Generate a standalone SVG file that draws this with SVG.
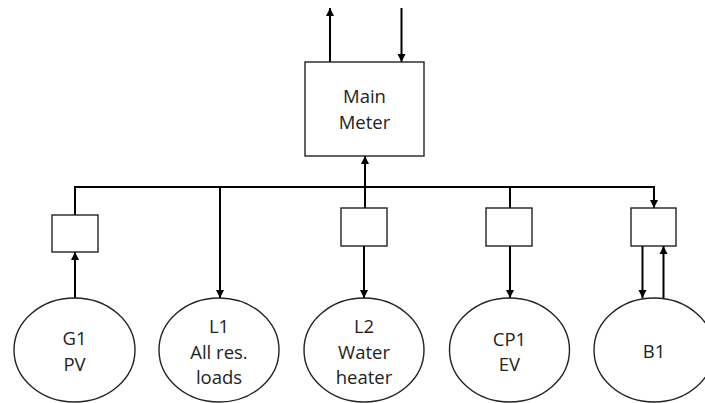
<svg xmlns="http://www.w3.org/2000/svg" width="705" height="403" viewBox="0 0 705 403">
<style>
.box{fill:#fff;stroke:#222;stroke-width:1.4}
.ell{fill:#fff;stroke:#222;stroke-width:1.4}
.ln{fill:none;stroke:#000;stroke-width:2}
.t{font-family:"Open Sans","Liberation Sans",sans-serif;font-size:18.5px;fill:#222;text-anchor:middle}
</style>
<defs>
<marker id="ah" viewBox="0 0 10 10" refX="10" refY="5" markerWidth="4" markerHeight="4.5" orient="auto" markerUnits="strokeWidth">
<path d="M0,0 L10,5 L0,10 z" fill="#000"/>
</marker>
</defs>
<rect width="705" height="403" fill="#fff"/>
<g id="connectors">
<line class="ln" x1="330" y1="62" x2="330" y2="8" marker-end="url(#ah)"/>
<line class="ln" x1="401.5" y1="8" x2="401.5" y2="62" marker-end="url(#ah)"/>
<line class="ln" x1="365" y1="187" x2="365" y2="156" marker-end="url(#ah)"/>
<polyline class="ln" points="75,215 75,187 654,187 654,208" marker-end="url(#ah)"/>
<line class="ln" x1="365" y1="187" x2="365" y2="208"/>
<line class="ln" x1="510" y1="187" x2="510" y2="208"/>
<line class="ln" x1="75" y1="298" x2="75" y2="252" marker-end="url(#ah)"/>
<line class="ln" x1="220" y1="187" x2="220" y2="298" marker-end="url(#ah)"/>
<line class="ln" x1="364" y1="246" x2="364" y2="298" marker-end="url(#ah)"/>
<line class="ln" x1="510" y1="246" x2="510" y2="298" marker-end="url(#ah)"/>
<line class="ln" x1="642.5" y1="246" x2="642.5" y2="298" marker-end="url(#ah)"/>
<line class="ln" x1="663.5" y1="298" x2="663.5" y2="246" marker-end="url(#ah)"/>
</g>
<g id="main-meter">
<rect class="box" x="305" y="62" width="119" height="94"/>
<text class="t" x="364.5" y="103">Main</text>
<text class="t" x="364.5" y="129">Meter</text>
</g>
<g id="meter-g1"><rect class="box" x="52" y="215" width="46" height="37"/></g>
<g id="meter-l2"><rect class="box" x="341" y="208" width="46" height="38"/></g>
<g id="meter-cp1"><rect class="box" x="486" y="208" width="46" height="38"/></g>
<g id="meter-b1"><rect class="box" x="631" y="208" width="45" height="38"/></g>
<g id="g1">
<ellipse class="ell" cx="74.5" cy="350" rx="60.5" ry="52"/>
<text class="t" x="74.5" y="345">G1</text>
<text class="t" x="74.5" y="371">PV</text>
</g>
<g id="l1">
<ellipse class="ell" cx="219" cy="350" rx="60" ry="52"/>
<text class="t" x="219" y="333">L1</text>
<text class="t" x="219" y="359">All res.</text>
<text class="t" x="219" y="383.5">loads</text>
</g>
<g id="l2">
<ellipse class="ell" cx="364" cy="350" rx="60" ry="52"/>
<text class="t" x="364" y="333">L2</text>
<text class="t" x="364" y="359">Water</text>
<text class="t" x="364" y="383.5">heater</text>
</g>
<g id="cp1">
<ellipse class="ell" cx="509.5" cy="350" rx="60" ry="52"/>
<text class="t" x="509.5" y="346">CP1</text>
<text class="t" x="509.5" y="371">EV</text>
</g>
<g id="b1">
<ellipse class="ell" cx="654" cy="350" rx="60" ry="52"/>
<text class="t" x="654" y="358">B1</text>
</g>
</svg>
